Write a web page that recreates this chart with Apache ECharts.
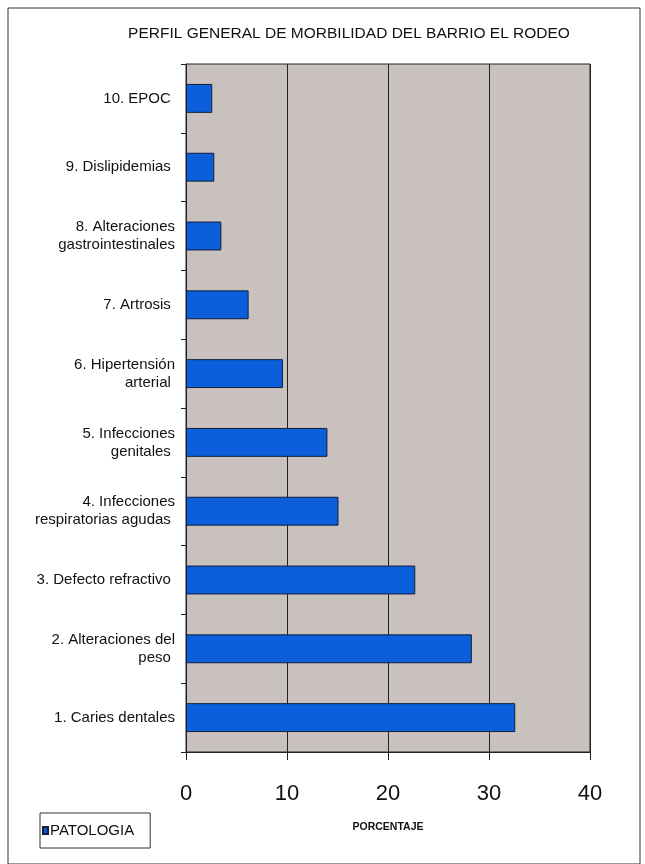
<!DOCTYPE html>
<html>
<head>
<meta charset="utf-8">
<script src="https://cdn.jsdelivr.net/npm/echarts@6/dist/echarts.min.js"></script>
<style>
	body { margin: 0; background: #fff; }
</style>
</head>
<body>
<div id="chart1" style="width: 645px; height: 864px"></div>

<script>
	// morbidity profile, bottom to top
	const categories = [
		'1. Caries dentales',
		'2. Alteraciones del\npeso ',
		'3. Defecto refractivo ',
		'4. Infecciones\nrespiratorias agudas ',
		'5. Infecciones\ngenitales ',
		'6. Hipertensión\narterial ',
		'7. Artrosis ',
		'8. Alteraciones\ngastrointestinales',
		'9. Dislipidemias ',
		'10. EPOC '
	];
	const porcentaje = [32.6, 28.3, 22.7, 15.1, 14.0, 9.6, 6.2, 3.5, 2.8, 2.6];
	const xTicks = [0, 10, 20, 30, 40];

	var chart1 = echarts.init(document.getElementById('chart1'));

	var chart1_option = {
		animation: false,
		textStyle: { fontFamily: 'Liberation Sans, Arial, sans-serif' },
		title: {
			text: 'PERFIL GENERAL DE MORBILIDAD DEL BARRIO EL RODEO',
			left: 344,
			textAlign: 'center',
			top: 21,
			textStyle: { fontSize: 15.5, fontWeight: 'normal', color: '#111' }
		},
		legend: {
			left: 40,
			top: 813,
			orient: 'horizontal',
			data: ['PATOLOGIA'],
			icon: 'rect',
			itemWidth: 5,
			itemHeight: 7,
			itemGap: 4,
			padding: [10, 16, 10, 2],
			borderColor: '#333',
			borderWidth: 1,
			textStyle: { fontSize: 15, color: '#111', padding: [0, 0, 0, -3] }
		},
		grid: {
			left: 186,
			right: 55,
			top: 64,
			bottom: 112,
			show: true,
			backgroundColor: '#c9c1be',
			borderColor: '#222',
			borderWidth: 1
		},
		xAxis: {
			type: 'value',
			min: 0,
			max: 40,
			interval: 10,
			name: 'PORCENTAJE',
			nameLocation: 'middle',
			nameGap: 70,
			nameTextStyle: { fontSize: 10.5, fontWeight: 'bold', color: '#111' },
			axisLine: { show: true, lineStyle: { color: '#222' } },
			axisTick: { show: true, length: 8, lineStyle: { color: '#222' } },
			axisLabel: {
				fontSize: 22,
				color: '#111',
				margin: 31,
				formatter: function (v) { return xTicks.indexOf(v) >= 0 ? String(v) : ''; }
			},
			splitLine: { show: true, lineStyle: { color: '#222', width: 1 } }
		},
		yAxis: {
			type: 'category',
			data: categories,
			axisLine: { show: true, lineStyle: { color: '#222' } },
			axisTick: { show: true, length: 5, lineStyle: { color: '#222' } },
			axisLabel: {
				fontSize: 15,
				color: '#111',
				margin: 11,
				lineHeight: 18,
				align: 'right'
			}
		},
		series: [{
			name: 'PATOLOGIA',
			type: 'bar',
			data: porcentaje,
			barWidth: '42%',
			itemStyle: { color: '#0b5fdb', borderColor: '#141e3c', borderWidth: 1 }
		}],
		graphic: [{
			type: 'rect',
			shape: { x: 8, y: 8, width: 632, height: 856 },
			style: { fill: 'none', stroke: '#333', lineWidth: 1 },
			silent: true,
			z: -1
		}]
	};

	chart1.setOption(chart1_option);
</script>
</body>
</html>
